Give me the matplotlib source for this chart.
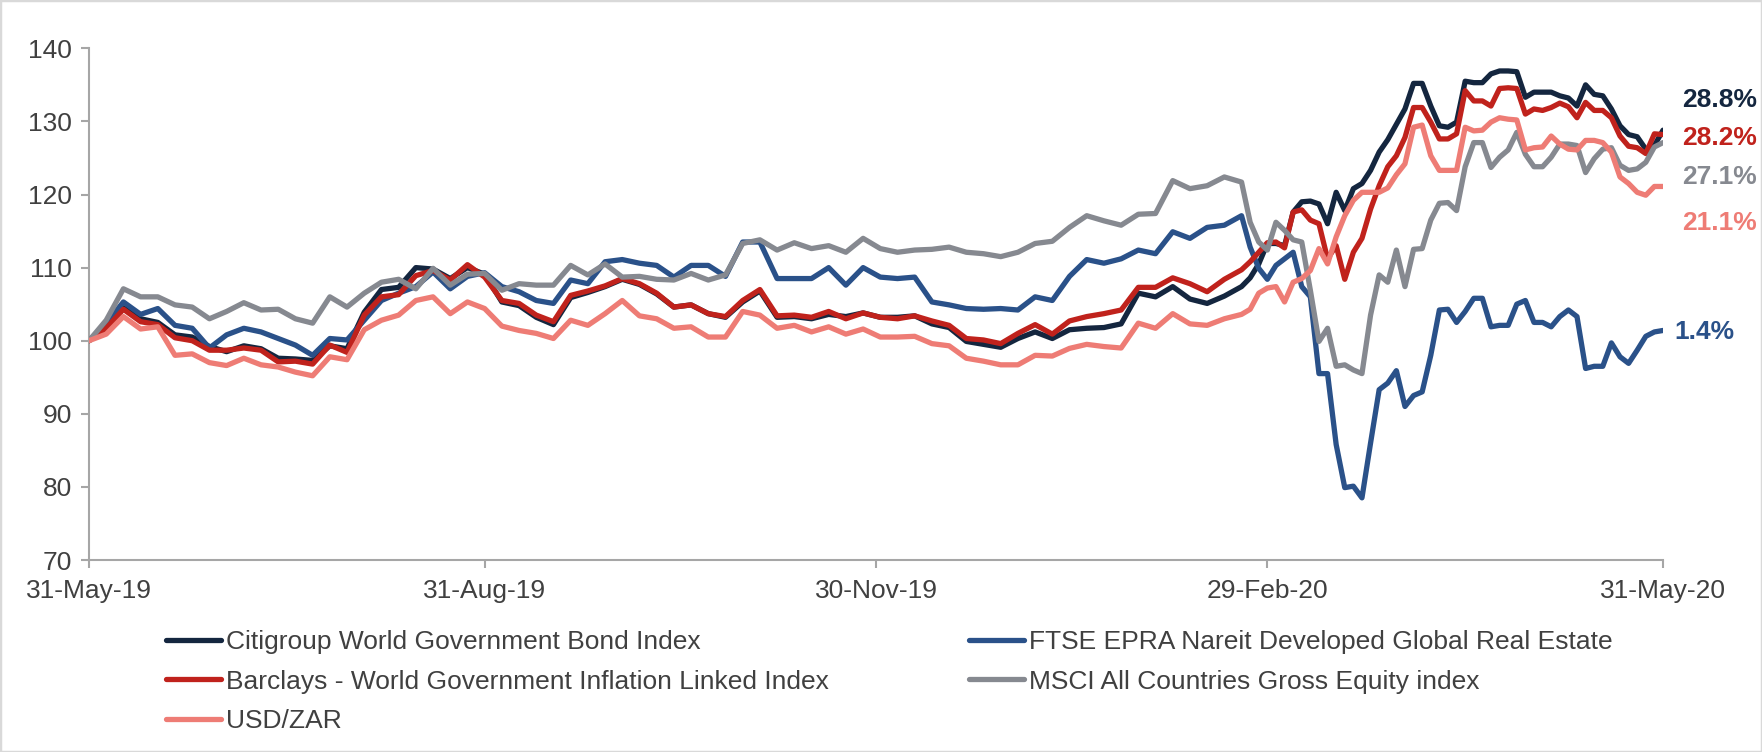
import numpy as np
import pandas as pd
import matplotlib
matplotlib.use('Agg')
import matplotlib.pyplot as plt
import matplotlib.dates as mdates
import matplotlib.transforms as mtransforms
from matplotlib.patches import Rectangle

plt.rcParams['font.family'] = ['Liberation Sans', 'DejaVu Sans']

# ---------------- data (index, 31-May-19 = 100) ----------------
start_date = pd.Timestamp('2019-05-31')
# sampling dates: day offsets from 31-May-19
day_offsets = list(range(0, 269, 4)) + list(range(270, 367, 2))

citigroup = [
    100, 101.7, 104.5, 103.0, 102.5, 100.8, 100.5, 99.2, 98.5, 99.3,
    98.9, 97.6, 97.5, 97.3, 99.3, 98.9, 103.9, 107.0, 107.3, 110.0,
    109.8, 108.5, 110.0, 109.1, 105.3, 104.8, 103.2, 102.2, 105.9, 106.6,
    107.4, 108.4, 107.7, 106.4, 104.6, 104.9, 103.7, 103.2, 105.3, 106.8,
    103.2, 103.3, 103.0, 103.6, 103.3, 103.8, 103.2, 103.2, 103.4, 102.3,
    101.8, 99.9, 99.5, 99.1, 100.3, 101.2, 100.3, 101.5, 101.7, 101.8,
    102.3, 106.5, 106.0, 107.4, 105.7, 105.1, 106.1, 107.4,
    108.6, 110.5, 113.3, 113.3, 113.0, 117.6, 119.0, 119.1, 118.7, 116.0,
    120.3, 117.8, 120.8, 121.5, 123.3, 125.8, 127.5, 129.6, 131.7, 135.2,
    135.2, 132.1, 129.4, 129.2, 129.9, 135.5, 135.3, 135.3, 136.5, 136.9,
    136.9, 136.8, 133.3, 134.0, 134.0, 134.0, 133.5, 133.2, 132.1, 135.0,
    133.7, 133.5, 131.7, 129.4, 128.2, 127.9, 126.2, 126.7, 128.8,
]
ftse_epra = [
    100, 102.4, 105.3, 103.6, 104.4, 102.1, 101.7, 99.0, 100.8, 101.7,
    101.2, 100.3, 99.4, 98.0, 100.3, 100.1, 102.8, 105.5, 106.5, 107.4,
    109.4, 107.1, 108.8, 109.3, 107.4, 106.7, 105.5, 105.1, 108.3, 107.8,
    110.8, 111.1, 110.6, 110.3, 108.7, 110.3, 110.3, 108.8, 113.5, 113.5,
    108.5, 108.5, 108.5, 110.0, 107.6, 110.0, 108.7, 108.5, 108.7, 105.3,
    104.9, 104.4, 104.3, 104.4, 104.2, 106.0, 105.5, 108.8, 111.1, 110.6,
    111.2, 112.4, 111.9, 114.9, 114.0, 115.5, 115.8, 117.1,
    112.8, 109.9, 108.4, 110.3, 111.2, 112.1, 107.4, 106.0, 95.5, 95.5,
    85.8, 79.9, 80.1, 78.5, 86.0, 93.3, 94.2, 95.9, 91.0, 92.5,
    93.0, 98.0, 104.2, 104.3, 102.5, 104.0, 105.8, 105.8, 101.9, 102.1,
    102.1, 105.0, 105.5, 102.5, 102.5, 101.9, 103.3, 104.2, 103.3, 96.2,
    96.5, 96.5, 99.7, 97.8, 96.9, 98.7, 100.6, 101.2, 101.4,
]
barclays = [
    100, 101.7, 104.3, 102.6, 102.2, 100.4, 100.0, 98.7, 98.7, 99.0,
    98.7, 97.1, 97.2, 96.8, 99.4, 98.4, 103.5, 106.0, 106.3, 108.9,
    109.6, 108.3, 110.4, 108.7, 105.5, 105.1, 103.5, 102.6, 106.2, 106.8,
    107.5, 108.5, 107.8, 106.5, 104.6, 104.9, 103.7, 103.3, 105.5, 107.0,
    103.4, 103.5, 103.2, 104.0, 103.0, 103.8, 103.2, 103.0, 103.4, 102.7,
    102.1, 100.3, 100.1, 99.6, 101.0, 102.2, 100.9, 102.7, 103.3, 103.7,
    104.2, 107.3, 107.3, 108.6, 107.8, 106.7, 108.4, 109.7,
    110.8, 112.1, 113.4, 113.5, 112.7, 117.6, 117.9, 116.5, 116.0, 111.2,
    113.0, 108.4, 112.1, 114.0, 118.0, 121.2, 123.8, 125.3, 127.8, 131.9,
    131.9, 129.9, 127.6, 127.6, 128.3, 134.2, 132.8, 132.8, 132.1, 134.5,
    134.6, 134.5, 131.0, 131.7, 131.5, 131.9, 132.5, 132.0, 130.5, 132.6,
    131.5, 131.5, 130.5, 128.0, 126.6, 126.4, 125.6, 128.3, 128.2,
]
msci_acwi = [
    100, 102.8, 107.1, 106.0, 106.0, 104.9, 104.6, 103.0, 104.0, 105.2,
    104.2, 104.3, 103.0, 102.4, 106.0, 104.6, 106.5, 108.0, 108.4, 107.1,
    109.9, 107.6, 109.1, 109.2, 106.9, 107.8, 107.6, 107.6, 110.3, 109.0,
    110.5, 108.7, 108.8, 108.4, 108.3, 109.2, 108.3, 109.0, 113.3, 113.8,
    112.4, 113.4, 112.6, 113.0, 112.1, 114.0, 112.6, 112.1, 112.4, 112.5,
    112.8, 112.1, 111.9, 111.5, 112.1, 113.3, 113.6, 115.5, 117.1, 116.4,
    115.8, 117.3, 117.4, 121.9, 120.8, 121.2, 122.4, 121.7,
    116.2, 113.5, 112.4, 116.2, 115.1, 113.8, 113.5, 106.9, 99.9, 101.7,
    96.5, 96.7, 96.0, 95.5, 103.5, 109.0, 108.0, 112.4, 107.4, 112.5,
    112.6, 116.5, 118.8, 118.9, 117.8, 123.8, 127.1, 127.1, 123.7, 125.1,
    126.1, 128.5, 125.5, 123.8, 123.8, 125.1, 126.9, 126.9, 126.7, 123.0,
    124.9, 126.2, 126.4, 124.0, 123.3, 123.5, 124.4, 126.5, 127.1,
]
usd_zar = [
    100, 100.9, 103.3, 101.6, 101.9, 98.0, 98.2, 97.0, 96.6, 97.6,
    96.7, 96.4, 95.7, 95.2, 97.8, 97.4, 101.5, 102.8, 103.5, 105.5,
    106.0, 103.7, 105.3, 104.4, 102.0, 101.4, 101.0, 100.3, 102.8, 102.1,
    103.7, 105.5, 103.4, 103.0, 101.7, 101.9, 100.5, 100.5, 104.0, 103.5,
    101.7, 102.1, 101.2, 101.9, 100.9, 101.6, 100.5, 100.5, 100.6, 99.6,
    99.3, 97.6, 97.2, 96.7, 96.7, 98.0, 97.9, 98.95, 99.5, 99.2,
    99.0, 102.4, 101.7, 103.7, 102.3, 102.1, 103.0, 103.6,
    104.3, 106.5, 107.2, 107.4, 105.3, 108.0, 108.5, 109.6, 112.6, 110.5,
    114.2, 117.1, 119.2, 120.3, 120.3, 120.3, 120.9, 122.7, 124.2, 129.2,
    129.5, 125.3, 123.3, 123.3, 123.3, 129.2, 128.7, 128.8, 129.9, 130.5,
    130.3, 130.2, 126.1, 126.4, 126.5, 128.0, 126.9, 126.2, 126.1, 127.4,
    127.4, 127.1, 125.8, 122.4, 121.5, 120.3, 119.9, 121.1, 121.1,
]

series_labels = [
    'Citigroup World Government Bond Index',
    'FTSE EPRA Nareit Developed Global Real Estate',
    'Barclays - World Government Inflation Linked Index',
    'MSCI All Countries Gross Equity index',
    'USD/ZAR',
]
series_values = [citigroup, ftse_epra, barclays, msci_acwi, usd_zar]
series_colors = ['#14263F', '#2A5189', '#C0221C', '#868990', '#EE7C75']

tick_dates = ['2019-05-31', '2019-08-31', '2019-11-30', '2020-02-29', '2020-05-31']
y_ticks = [70, 80, 90, 100, 110, 120, 130, 140]

# ---------------- layout ----------------
W, H = 1762, 752
FS = 19
fig = plt.figure(figsize=(W / 100, H / 100), dpi=100)
ax_left, ax_right, ax_top, ax_bottom = 89, 1663, 48.3, 560
ax = fig.add_axes([ax_left / W, 1 - ax_bottom / H,
                   (ax_right - ax_left) / W, (ax_bottom - ax_top) / H])

dates = start_date + pd.to_timedelta(day_offsets, unit='D')

lines = {}
for z, (lab, vals, col) in enumerate(zip(series_labels, series_values, series_colors)):
    ln, = ax.plot(dates, vals, color=col, lw=3.8, label=lab, zorder=2 + z,
                  solid_joinstyle='round', solid_capstyle='round')
    lines[lab] = ln

ax.set_xlim(pd.Timestamp(tick_dates[0]), pd.Timestamp(tick_dates[-1]))
ax.set_ylim(70, 140)
ax.set_yticks(y_ticks)
ax.set_xticks(pd.to_datetime(tick_dates))
ax.xaxis.set_major_formatter(mdates.DateFormatter('%d-%b-%y'))

axis_grey = '#A6A6A6'
text_grey = '#404040'
for s in ['top', 'right']:
    ax.spines[s].set_visible(False)
for s in ['left', 'bottom']:
    ax.spines[s].set_color(axis_grey)
    ax.spines[s].set_linewidth(1.5)
ax.tick_params(axis='both', direction='out', length=6, width=1.5,
               color=axis_grey, labelsize=FS, labelcolor=text_grey)
ax.tick_params(axis='y', pad=6)
ax.tick_params(axis='x', pad=8)

# ---------------- end-of-period labels ----------------
blend = mtransforms.blended_transform_factory(fig.transFigure, ax.transData)
label_y = {  # vertical placement of the return labels (data units)
    'Citigroup World Government Bond Index': 132.9,
    'Barclays - World Government Inflation Linked Index': 127.7,
    'MSCI All Countries Gross Equity index': 122.4,
    'USD/ZAR': 116.1,
    'FTSE EPRA Nareit Developed Global Real Estate': 101.2,
}
for lab, vals, col in zip(series_labels, series_values, series_colors):
    txt = f"{vals[-1] - 100:.1f}%"
    if lab.startswith('FTSE'):
        ax.text(1674 / W, label_y[lab], txt, transform=blend, ha='left', va='center',
                fontsize=FS, fontweight='bold', color=col)
    else:
        ax.text(1757 / W, label_y[lab], txt, transform=blend, ha='right', va='center',
                fontsize=FS, fontweight='bold', color=col)

# ---------------- legend (two columns) ----------------
leg_kw = dict(loc='upper left', frameon=False, fontsize=FS, handlelength=2.1,
              handletextpad=0.18, labelspacing=0.59, borderpad=0, borderaxespad=0,
              labelcolor=text_grey)
col1 = [series_labels[0], series_labels[2], series_labels[4]]
col2 = [series_labels[1], series_labels[3]]
fig.legend([lines[l] for l in col1], col1, bbox_to_anchor=(166 / W, 1 - 630 / H), **leg_kw)
fig.legend([lines[l] for l in col2], col2, bbox_to_anchor=(969 / W, 1 - 630 / H), **leg_kw)

# outer frame
fig.patches.append(Rectangle((0, 0), 1, 1, transform=fig.transFigure, fill=False,
                             edgecolor='#D9D9D9', linewidth=2.5))

fig.savefig('out.png', dpi=100)
